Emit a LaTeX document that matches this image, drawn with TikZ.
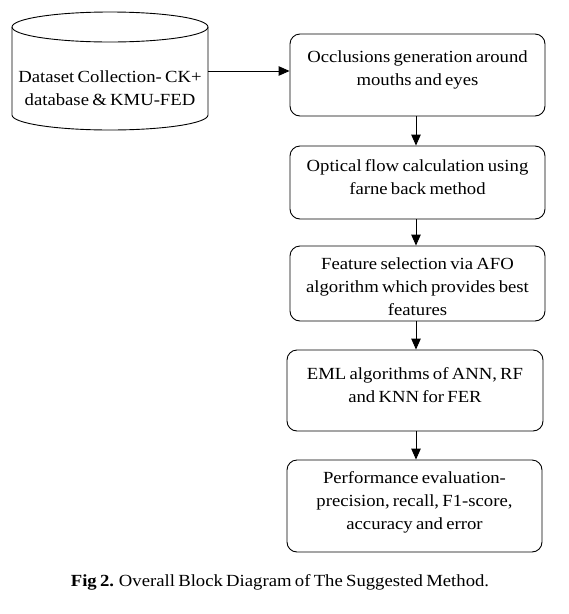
\documentclass[tikz,border=0pt]{standalone}
\usepackage{fontspec}
\setmainfont{Liberation Serif}[FakeStretch=1.1, WordSpace=0.7]
\usetikzlibrary{arrows.meta}
\begin{document}
\begin{tikzpicture}[x=1pt,y=1pt,
  boxstyle/.style={draw, line width=0.9pt, rounded corners=10pt, inner sep=0pt},
  txtstyle/.style={align=center, font=\fontsize{17}{23}\selectfont, inner sep=0pt},
  arr/.style={line width=0.9pt, -{Triangle[length=11pt,width=9.5pt]}}]
\useasboundingbox (0,0) rectangle (569,-614);
% cylinder
\draw[line width=0.9pt] (110,-27) ellipse [x radius=98, y radius=15];
\draw[line width=0.9pt] (12,-27) -- (12,-115) arc[start angle=180, end angle=360, x radius=98, y radius=15] -- (208,-27);
\node[txtstyle] (cyl) at (110,-88) {Dataset Collection- CK+\\database \& KMU-FED};
\coordinate (cylR) at (208,-71);
% boxes
\node[boxstyle, minimum width=255pt, minimum height=82pt] (b1) at (417.5,-75) {};
\node[boxstyle, minimum width=255pt, minimum height=73pt] (b2) at (417.5,-182.5) {};
\node[boxstyle, minimum width=255pt, minimum height=75pt] (b3) at (417.5,-283.5) {};
\node[boxstyle, minimum width=256pt, minimum height=81pt] (b4) at (415,-390.5) {};
\node[boxstyle, minimum width=255pt, minimum height=92pt] (b5) at (414.5,-506) {};
% texts
\node[txtstyle] (t1) at (417.5,-70) {Occlusions generation around\\mouths and eyes};
\node[txtstyle] (t2) at (417.5,-177.5) {Optical flow calculation using\\farne back method};
\node[txtstyle] (t3) at (417.5,-287) {Feature selection via AFO\\algorithm which provides best\\features};
\node[txtstyle] (t4) at (415,-385.5) {EML algorithms of ANN, RF\\and KNN for FER};
\node[txtstyle] (t5) at (414.5,-502) {Performance evaluation-\\precision, recall, F1-score,\\accuracy and error};
% arrows
\coordinate (ax) at (416,0);
\draw[arr] (cylR) -- (cylR -| b1.west);
\draw[arr] (ax |- b1.south) -- (ax |- b2.north);
\draw[arr] (ax |- b2.south) -- (ax |- b3.north);
\draw[arr] (ax |- b3.south) -- (ax |- b4.north);
\draw[arr] (ax |- b4.south) -- (ax |- b5.north);
% caption
\node[inner sep=0pt, font=\fontsize{17}{20}\selectfont] (cap) at (280,-582) {\textbf{Fig 2.} Overall Block Diagram of The Suggested Method.};
\end{tikzpicture}
\end{document}
